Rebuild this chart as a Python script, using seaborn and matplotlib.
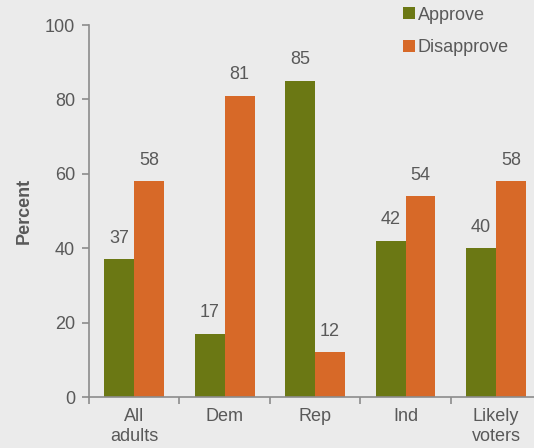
import numpy as np
import pandas as pd
import matplotlib
matplotlib.use("Agg")
import matplotlib.pyplot as plt
import seaborn as sns

categories = ["All\nadults", "Dem", "Rep", "Ind", "Likely\nvoters"]
series = ["Approve", "Disapprove"]
approve = [37, 17, 85, 42, 40]
disapprove = [58, 81, 12, 54, 58]
yticks = [0, 20, 40, 60, 80, 100]

colors = {"Approve": "#6B7814", "Disapprove": "#D76928"}
bg = "#EBEBEB"
txt = "#595959"
axc = "#8C8C8C"
fs = 13

sns.set_theme(style="white")
plt.rcParams["font.family"] = ["Liberation Sans", "DejaVu Sans"]

df = pd.DataFrame({
    "group": categories * 2,
    "series": [series[0]] * len(categories) + [series[1]] * len(categories),
    "value": approve + disapprove,
})

fig = plt.figure(figsize=(5.34, 4.48), dpi=100, facecolor=bg)
ax = fig.add_axes([89 / 534, 1 - 397 / 448, 1 - 89 / 534, (397 - 25) / 448])
ax.set_facecolor(bg)

sns.barplot(data=df, x="group", y="value", hue="series", order=categories,
            hue_order=series, palette=colors, width=0.66, gap=0,
            saturation=1, ax=ax, legend=True, edgecolor="none")

for cont in ax.containers:
    for bar in cont:
        h = bar.get_height()
        ax.annotate(f"{h:.0f}", (bar.get_x() + bar.get_width() / 2, h),
                    xytext=(0, 9), textcoords="offset points",
                    ha="center", va="bottom", fontsize=fs, color=txt)

ax.set_yticks(yticks)
ax.set_ylabel("Percent", fontsize=fs, fontweight="bold", color=txt, labelpad=9)
ax.set_xlabel("")

for s in ["top", "right"]:
    ax.spines[s].set_visible(False)
for s in ["left", "bottom"]:
    ax.spines[s].set_color(axc)
    ax.spines[s].set_linewidth(1.2)

ax.tick_params(axis="y", length=5, width=1.2, color=axc, labelsize=fs,
               labelcolor=txt, pad=5, left=True)
ax.tick_params(axis="x", which="major", length=0, labelsize=fs,
               labelcolor=txt, pad=8)
ax.set_xticks(np.arange(-0.5, 5, 1.0), minor=True)
ax.tick_params(axis="x", which="minor", length=5, width=1.2, color=axc,
               bottom=True)
for lbl in ax.get_xticklabels():
    lbl.set_linespacing(1.25)

ax.set_ylim(0, 100)
ax.set_xlim(-0.5, 4.42)

leg = ax.legend(loc="upper left", bbox_to_anchor=(394 / 534, 1.005),
                bbox_transform=fig.transFigure, frameon=False, fontsize=fs,
                handlelength=0.65, handleheight=0.65, handletextpad=0.15,
                labelspacing=0.85, borderaxespad=0.1)
for t in leg.get_texts():
    t.set_color(txt)

fig.savefig("out.png", dpi=100, facecolor=bg)
